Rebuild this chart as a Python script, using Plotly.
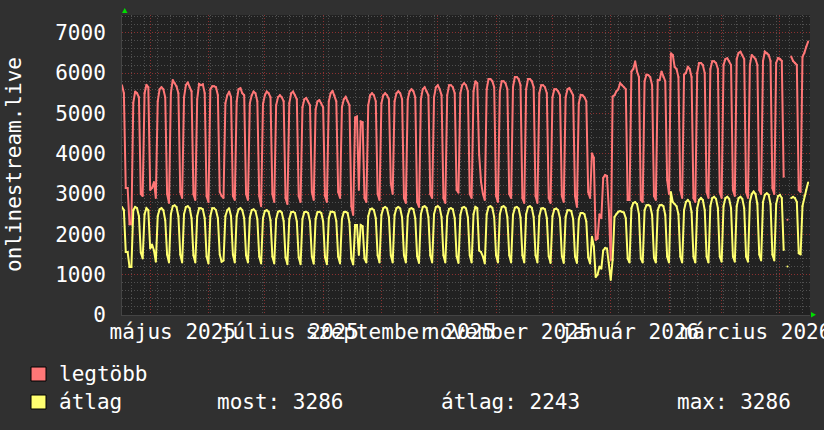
import plotly.graph_objects as go
import pandas as pd

# --- data (daily, Wed 2025-04-16 .. Thu 2026-04-16), rows = Mon..Sun weeks ---
start_day = "2025-04-16"

legtobb_rows = [
    [5700, 5500, 3150, 3150, 2250],
    [2250, 5260, 5540, 5500, 5400, 3000, 2950],
    [5500, 5710, 5650, 3100, 3150, 3300, 2900],
    [5300, 5600, 5650, 5600, 5400, 3000, 2780],
    [5500, 5830, 5750, 5670, 5500, 3050, 2900],
    [5400, 5700, 5770, 5650, 5550, 3000, 2850],
    [5350, 5730, 5700, 5720, 5500, 2950, 2800],
    [5600, 5670, 5670, 5650, 5450, 3050, 2950],
    [2900, 5250, 5450, 5540, 5400, 2950, 2850],
    [5300, 5600, 5625, 5500, 5450, 3000, 2850],
    [5250, 5450, 5540, 5500, 5300, 2950, 2700],
    [5230, 5450, 5540, 5500, 5400, 3000, 2800],
    [5200, 5400, 5450, 5400, 5300, 2900, 2750],
    [5250, 5500, 5540, 5450, 5350, 2950, 2800],
    [5150, 5350, 5380, 5300, 5200, 3050, 2850],
    [5100, 5300, 5330, 5250, 5150, 2950, 2800],
    [5300, 5500, 5560, 5450, 5300, 3050, 2900],
    [5150, 5350, 5410, 5300, 5200, 2700, 2480],
    [4900, 4920, 3100, 4800, 4780, 2900, 2800],
    [5200, 5450, 5500, 5450, 5300, 3000, 2850],
    [5250, 5450, 5500, 5450, 5350, 3270, 3000],
    [5300, 5500, 5550, 5500, 5350, 2900, 2780],
    [5350, 5550, 5600, 5550, 5400, 2800, 2680],
    [5350, 5600, 5650, 5550, 5450, 3000, 2900],
    [5400, 5650, 5700, 5600, 5450, 2900, 2780],
    [5450, 5700, 5700, 5650, 5500, 3100, 3030],
    [5500, 5700, 5750, 5700, 5550, 3000, 2900],
    [5550, 5800, 5750, 3970, 3300, 3000, 2850],
    [5600, 5850, 5850, 5800, 5650, 2950, 2800],
    [5550, 5800, 5800, 5750, 5600, 3000, 2900],
    [5650, 5900, 5900, 5850, 5700, 2900, 2780],
    [5600, 5850, 5850, 5800, 5650, 2950, 2780],
    [5500, 5700, 5700, 5650, 5500, 2900, 2780],
    [5400, 5600, 5600, 5550, 5450, 2950, 2800],
    [5400, 5600, 5625, 5550, 5450, 2950, 2680],
    [5250, 5460, 5450, 5400, 5300, 3050, 2900],
    [4010, 3900, 1860, 1900, 2500, 2400, 3400],
    [3470, 3450, 2600, 1365, 5420, 5450, 5550],
    [5600, 5750, 5700, 5650, 5600, 2850, 2850],
    [6040, 6100, 6290, 6040, 5900, 2850, 2800],
    [5800, 5960, 5950, 5900, 5700, 2950, 2850],
    [5830, 5830, 6040, 5900, 5800, 3350, 3000],
    [6490, 6450, 6150, 6100, 5900, 3100, 2900],
    [5960, 6000, 6160, 6100, 5900, 2900, 2800],
    [6000, 6250, 6250, 6200, 6000, 3050, 2900],
    [6100, 6290, 6290, 6250, 6100, 3050, 2900],
    [6200, 6350, 6370, 6300, 6200, 3100, 2950],
    [6350, 6500, 6530, 6450, 6350, 3050, 2900],
    [6200, 6450, 6400, 6350, 6200, 3100, 3000],
    [6300, 6530, 6500, 6450, 6300, 3150, 3000],
    [6250, 6370, 6350, 6300, 3430, None, 2360],
    [None, 6410, 6300, 6250, 6200, 3100, 3050],
    [6400, 6500, 6650, 6780],
]

atlag_rows = [
    [2680, 2600, 1560, 1560, 1190],
    [1190, 2600, 2680, 2650, 2450, 1550, 1400],
    [2500, 2650, 2600, 1650, 1750, 1600, 1320],
    [2450, 2620, 2650, 2600, 2350, 1500, 1300],
    [2500, 2700, 2720, 2680, 2450, 1500, 1300],
    [2500, 2680, 2700, 2650, 2400, 1480, 1300],
    [2450, 2650, 2650, 2620, 2400, 1450, 1280],
    [2450, 2650, 2650, 2600, 2400, 1500, 1320],
    [1350, 2450, 2600, 2650, 2450, 1500, 1300],
    [2450, 2620, 2650, 2600, 2400, 1480, 1300],
    [2420, 2600, 2620, 2580, 2380, 1450, 1280],
    [2400, 2580, 2600, 2560, 2350, 1450, 1280],
    [2380, 2560, 2580, 2540, 2330, 1430, 1260],
    [2380, 2550, 2560, 2530, 2320, 1430, 1260],
    [2380, 2550, 2560, 2530, 2320, 1450, 1270],
    [2380, 2550, 2560, 2530, 2320, 1430, 1260],
    [2400, 2560, 2560, 2540, 2330, 1450, 1280],
    [2380, 2550, 2560, 2530, 2300, 1400, 1250],
    [2230, 2230, 1490, 2230, 2200, 1400, 1300],
    [2450, 2620, 2640, 2600, 2400, 1480, 1300],
    [2480, 2650, 2680, 2640, 2420, 1480, 1300],
    [2480, 2650, 2680, 2640, 2420, 1480, 1300],
    [2450, 2630, 2650, 2620, 2400, 1460, 1290],
    [2500, 2680, 2700, 2660, 2430, 1480, 1300],
    [2500, 2680, 2700, 2660, 2430, 1480, 1300],
    [2450, 2630, 2650, 2620, 2400, 1460, 1290],
    [2480, 2660, 2680, 2640, 2420, 1480, 1300],
    [2500, 2680, 2650, 1600, 1560, 1450, 1280],
    [2500, 2680, 2700, 2660, 2430, 1480, 1300],
    [2500, 2680, 2700, 2660, 2430, 1480, 1300],
    [2480, 2660, 2680, 2640, 2420, 1480, 1300],
    [2500, 2680, 2700, 2660, 2430, 1480, 1300],
    [2450, 2640, 2650, 2620, 2400, 1460, 1290],
    [2450, 2620, 2640, 2600, 2400, 1460, 1290],
    [2430, 2600, 2600, 2580, 2380, 1450, 1290],
    [2380, 2530, 2530, 2500, 2320, 1430, 1280],
    [1940, 1700, 940, 1000, 1200, 1150, 1600],
    [1660, 1650, 1300, 870, 1365, 2430, 2500],
    [2560, 2580, 2560, 2540, 2400, 1400, 1300],
    [2650, 2780, 2800, 2750, 2500, 1400, 1300],
    [2600, 2720, 2730, 2700, 2480, 1420, 1300],
    [2600, 2720, 2730, 2700, 2480, 1450, 1300],
    [3050, 2800, 2750, 2700, 2500, 1450, 1300],
    [2600, 2800, 2850, 2800, 2550, 1450, 1300],
    [2650, 2850, 2900, 2850, 2600, 1450, 1300],
    [2700, 2900, 2930, 2880, 2650, 1450, 1320],
    [2700, 2900, 2930, 2880, 2650, 1450, 1320],
    [2700, 2900, 2930, 2880, 2650, 1450, 1320],
    [2800, 3000, 3060, 3000, 2750, 1500, 1350],
    [2800, 2980, 3020, 2980, 2750, 1500, 1350],
    [2750, 2950, 2980, 2900, 1610, None, 1200],
    [None, 2900, 2930, 2900, 2800, 1530, 1500],
    [2700, 2950, 3100, 3286],
]

month_labels = ["május 2025", "július 2025", "szeptember 2025",
                "november 2025", "január 2026", "március 2026"]
month_label_days = ["2025-05-13", "2025-07-14", "2025-09-11",
                    "2025-11-08", "2026-01-11", "2026-03-19"]

y_ticks = [0, 1000, 2000, 3000, 4000, 5000, 6000, 7000]
stats = {"most": 3286, "átlag": 2243, "max": 3286}

legtobb = [v for row in legtobb_rows for v in row]
atlag = [v for row in atlag_rows for v in row]
days = pd.date_range(start_day, periods=len(legtobb), freq="D")

W, H = 824, 430
L, R, T, B = 122, 810, 15, 315
FONT = "DejaVu Sans Mono"
PAPER = "#303030"
x_range = ["2025-04-16", "2026-04-17"]


def px(x):
    return (x - L) / (R - L)


def py(y):
    return (B - y) / (B - T)


fig = go.Figure()
fig.add_trace(go.Scatter(
    x=days, y=legtobb, mode="lines+markers",
    line=dict(color="#ff7777", width=2), marker=dict(size=2, color="#ff7777"),
    name="legtöbb", connectgaps=False,
))
fig.add_trace(go.Scatter(
    x=days, y=atlag, mode="lines+markers",
    line=dict(color="#ffff70", width=2), marker=dict(size=2, color="#ffff70"),
    name="átlag", connectgaps=False,
))

red_grid = "#8a3030"
gray_grid = "#505050"
dots = "1px,2px"

fig.update_layout(
    width=W, height=H,
    margin=dict(l=L, r=W - R, t=T, b=H - B, autoexpand=False),
    paper_bgcolor=PAPER,
    plot_bgcolor="#212121",
    showlegend=False,
    font=dict(family=FONT, size=21, color="#ffffff"),
    xaxis=dict(
        type="date", range=x_range, automargin=False,
        tick0="2025-05-01", dtick="M1",
        showticklabels=False, ticks="",
        showgrid=True, gridcolor=red_grid, griddash=dots, gridwidth=1,
        minor=dict(tick0="2025-04-21", dtick=7 * 86400000, showgrid=True,
                   gridcolor=gray_grid, griddash=dots, gridwidth=1),
        showline=True, linecolor="#444444", zeroline=False,
    ),
    xaxis2=dict(
        type="date", range=x_range, overlaying="x", anchor="y", side="bottom",
        automargin=False, tickangle=0, ticklabeloverflow="allow",
        tickvals=month_label_days, ticktext=month_labels,
        showgrid=False, ticks="", ticklabelstandoff=2,
        tickfont=dict(family=FONT, size=21, color="#ffffff"),
    ),
    yaxis=dict(
        range=[0, 7440], tickvals=y_ticks, automargin=False,
        showgrid=True, gridcolor=red_grid, griddash=dots, gridwidth=1,
        minor=dict(dtick=200, showgrid=True, gridcolor=gray_grid,
                   griddash=dots, gridwidth=1),
        ticks="", ticklabelstandoff=11,
        tickfont=dict(family=FONT, size=21, color="#ffffff"),
        showline=True, linecolor="#444444", zeroline=False,
    ),
)

# helper trace so the label axis is drawn
fig.add_trace(go.Scatter(x=[days[0]], y=[None], xaxis="x2", showlegend=False,
                         hoverinfo="skip"))

# vertical title
fig.add_annotation(text="onlinestream.live", textangle=-90,
                   x=px(14), y=py(165), xref="paper", yref="paper",
                   xanchor="center", yanchor="middle",
                   showarrow=False, font=dict(family=FONT, size=21, color="#ffffff"))

# axis arrows
fig.add_shape(type="path", xref="paper", yref="paper",
              path=f"M {px(122)},{py(13)} L {px(127.5)},{py(13)} L {px(124.75)},{py(8)} Z",
              fillcolor="#00dd00", line=dict(width=0))
fig.add_shape(type="path", xref="paper", yref="paper",
              path=f"M {px(811)},{py(312)} L {px(811)},{py(317.5)} L {px(816)},{py(314.75)} Z",
              fillcolor="#00dd00", line=dict(width=0))

# legend
legend_items = [("legtöbb", "#ff7777", 374), ("átlag", "#ffff70", 402)]
for label, color, yc in legend_items:
    fig.add_shape(type="rect", xref="paper", yref="paper",
                  x0=px(31), x1=px(46), y0=py(yc - 7), y1=py(yc + 7),
                  fillcolor=color, line=dict(color="#000000", width=1))
    fig.add_annotation(text=label, x=px(57), y=py(yc), xref="paper", yref="paper",
                       xanchor="left", yanchor="middle", showarrow=False,
                       font=dict(family=FONT, size=21, color="#ffffff"))

stat_x = {"most": 215, "átlag": 439, "max": 675}
for key, val in stats.items():
    fig.add_annotation(text=f"{key}: {val}", x=px(stat_x[key]), y=py(402),
                       xref="paper", yref="paper", xanchor="left", yanchor="middle",
                       showarrow=False,
                       font=dict(family=FONT, size=21, color="#ffffff"))

fig.write_html(
    "out.html",
    config={"displayModeBar": False},
    post_script=f"document.body.style.margin='0';document.body.style.background='{PAPER}';",
)
